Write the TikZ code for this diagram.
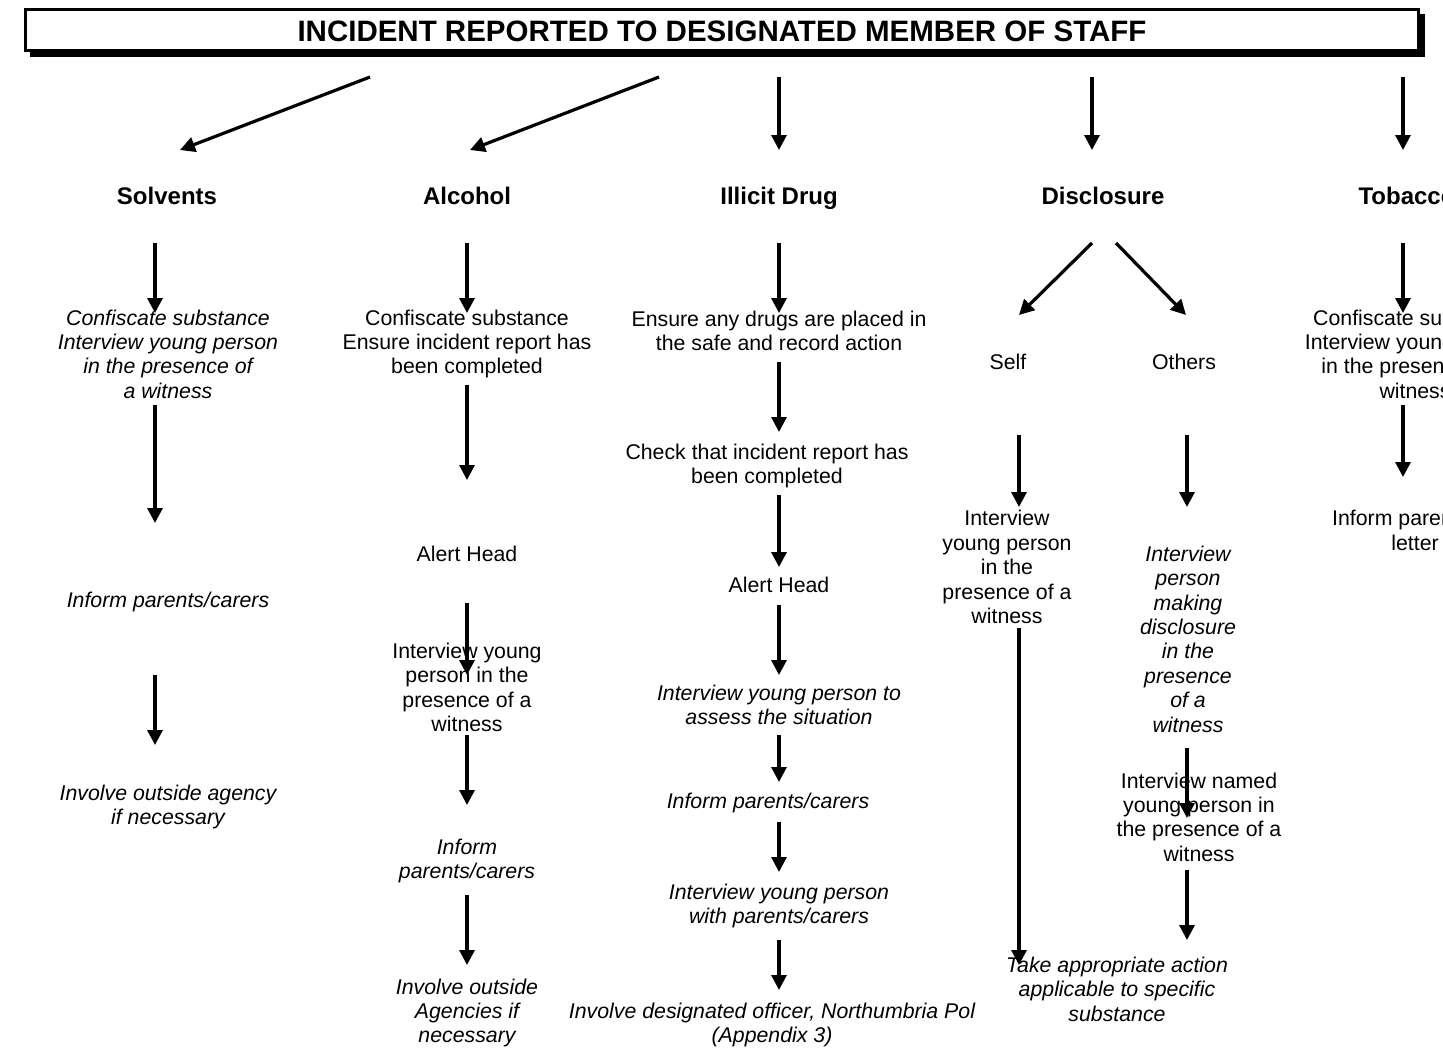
\documentclass[tikz,border=0pt]{standalone}
\usepackage{fontspec}
\setmainfont{Liberation Sans}
\usetikzlibrary{arrows.meta}
\newcommand\myarrow[5]{\coordinate (#1s) at (#2,#3); \coordinate (#1e) at (#4,#5); \draw[arr] (#1s) -- (#1e);}
\begin{document}
\begin{tikzpicture}[x=1pt,y=-1pt,
  arr/.style={line width=3.2pt,-{Triangle[width=15pt,length=15pt]}},
  txt/.style={font=\fontsize{21.3}{24.4}\selectfont, align=center, inner sep=0pt},
  itxt/.style={txt, font=\fontsize{21.3}{24.4}\selectfont\itshape},
  head/.style={font=\fontsize{24}{28}\selectfont\bfseries, inner sep=0pt, anchor=base},
  titlefont/.style={font=\fontsize{29.5}{34}\selectfont\bfseries, inner sep=0pt, anchor=base}]
\path[use as bounding box] (0,0) rectangle (1443,1053);
\clip (0,0) rectangle (1443,1053);
% title box
\fill (30,14) rectangle (1425,57);
\draw[line width=3pt, fill=white] (25.5,9.5) rectangle (1418,50.5);
\node[titlefont] (title) at (722,41.5) {INCIDENT REPORTED TO DESIGNATED MEMBER OF STAFF};
% headers
\node[head] (solv) at (167,204.5) {Solvents};
\node[head] (alc) at (467,204.5) {Alcohol};
\node[head] (ill) at (779,204.5) {Illicit Drug};
\node[head] (disc) at (1103,204.5) {Disclosure};
\node[head] (tob) at (1407,204.5) {Tobacco};
% top arrows
\myarrow{t1}{370}{77}{180}{150}
\myarrow{t2}{659}{77}{470}{150}
\myarrow{t3}{779}{77}{779}{150}
\myarrow{t4}{1092}{77}{1092}{150}
\myarrow{t5}{1403}{77}{1403}{150}
% Solvents
\node[itxt] (s1) at (168,354) {Confiscate substance\\Interview young person\\in the presence of\\a witness};
\node[itxt] (s2) at (168,602) {Inform parents/carers};
\node[itxt] (s3) at (168,807) {Involve outside agency\\if necessary};
\myarrow{sa1}{155}{243}{155}{313}
\myarrow{sa2}{155}{405}{155}{523}
\myarrow{sa3}{155}{675}{155}{745}
% Alcohol
\node[txt] (a1) at (467,344) {Confiscate substance\\Ensure incident report has\\been completed};
\node[txt] (a2) at (467,554) {Alert Head};
\node[txt] (a3) at (467,687.5) {Interview young\\person in the\\presence of a\\witness};
\node[itxt] (a4) at (467,861) {Inform\\parents/carers};
\node[itxt] (a5) at (467,1013) {Involve outside\\Agencies if\\necessary};
\myarrow{aa1}{467}{243}{467}{313}
\myarrow{aa2}{467}{385}{467}{480}
\myarrow{aa3}{467}{603}{467}{675}
\myarrow{aa4}{467}{735}{467}{805}
\myarrow{aa5}{467}{895}{467}{965}
% Illicit drug
\node[txt] (d1) at (779,331) {Ensure any drugs are placed in\\the safe and record action};
\node[txt] (d2) at (767,466) {Check that incident report has\\been completed};
\node[txt] (d3) at (779,585) {Alert Head};
\node[itxt] (d4) at (779,705) {Interview young person to\\assess the situation};
\node[itxt] (d5) at (768,803) {Inform parents/carers};
\node[itxt] (d6) at (779,906) {Interview young person\\with parents/carers};
\node[itxt] (d7) at (772,1025) {Involve designated officer, Northumbria Pol\\(Appendix 3)};
\myarrow{da1}{779}{243}{779}{313}
\myarrow{da2}{779}{362}{779}{432}
\myarrow{da3}{779}{495}{779}{567}
\myarrow{da4}{779}{605}{779}{675}
\myarrow{da5}{779}{735}{779}{782}
\myarrow{da6}{779}{822}{779}{872}
\myarrow{da7}{779}{940}{779}{990}
% Disclosure
\node[txt] (self) at (1008,362) {Self};
\node[txt] (oth) at (1184,362) {Others};
\node[txt] (sf1) at (1007,567) {Interview\\young person\\in the\\presence of a\\witness};
\node[itxt] (o1) at (1188,639) {Interview\\person\\making\\disclosure\\in the\\presence\\of a\\witness};
\node[txt] (o2) at (1199,817) {Interview named\\young person in\\the presence of a\\witness};
\node[itxt] (fin) at (1117,989) {Take appropriate action\\applicable to specific\\substance};
\myarrow{xa1}{1092}{243}{1019}{315}
\myarrow{xa2}{1116}{243}{1186}{315}
\myarrow{xa3}{1019}{435}{1019}{507}
\myarrow{xa4}{1187}{435}{1187}{507}
\myarrow{xa5}{1019}{628}{1019}{965}
\myarrow{xa6}{1187}{748}{1187}{818}
\myarrow{xa7}{1187}{870}{1187}{940}
% Tobacco
\node[txt] (tb1) at (1415,354) {Confiscate substance\\Interview young person\\in the presence of a\\witness};
\node[txt] (tb2) at (1415,530.5) {Inform parents by\\letter};
\myarrow{ta1}{1403}{243}{1403}{313}
\myarrow{ta2}{1403}{405}{1403}{477}
\end{tikzpicture}
\end{document}
